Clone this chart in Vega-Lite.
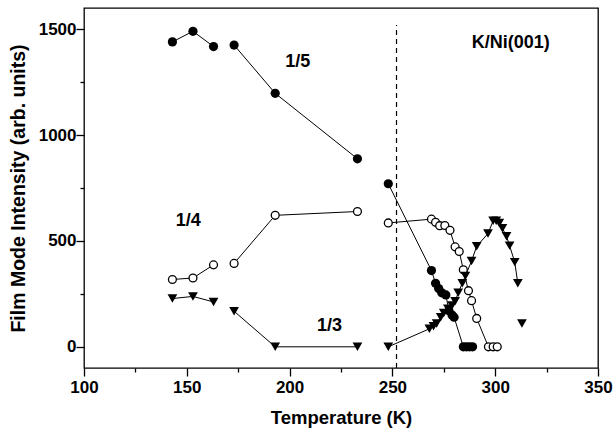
{
  "$schema": "https://vega.github.io/schema/vega-lite/v6.json",
  "width": 514,
  "height": 360,
  "autosize": "none",
  "padding": {"left": 84, "top": 8, "right": 15, "bottom": 64},
  "background": "white",
  "config": {
    "view": {"stroke": "black", "strokeWidth": 1.3},
    "axis": {"grid": false, "domain": false, "labelFont": "Liberation Sans", "titleFont": "Liberation Sans", "labelColor": "black", "titleColor": "black", "tickColor": "black", "tickWidth": 1.3}
  },
  "datasets": {
    "pts": [
      {"series": "1/5", "seg": "A", "T": 143, "I": 1440},
      {"series": "1/5", "seg": "A", "T": 153, "I": 1490},
      {"series": "1/5", "seg": "A", "T": 163, "I": 1418},
      {"series": "1/5", "seg": "B", "T": 173, "I": 1425},
      {"series": "1/5", "seg": "B", "T": 193, "I": 1197},
      {"series": "1/5", "seg": "B", "T": 233, "I": 888},
      {"series": "1/5", "seg": "C", "T": 248, "I": 770},
      {"series": "1/5", "seg": "C", "T": 269, "I": 360},
      {"series": "1/5", "seg": "C", "T": 271, "I": 300},
      {"series": "1/5", "seg": "C", "T": 272.5, "I": 275},
      {"series": "1/5", "seg": "C", "T": 274, "I": 255},
      {"series": "1/5", "seg": "C", "T": 276, "I": 245},
      {"series": "1/5", "seg": "C", "T": 277.5, "I": 170},
      {"series": "1/5", "seg": "C", "T": 279, "I": 150},
      {"series": "1/5", "seg": "C", "T": 280, "I": 140},
      {"series": "1/5", "seg": "C", "T": 284.5, "I": 0},
      {"series": "1/5", "seg": "C", "T": 286, "I": 0},
      {"series": "1/5", "seg": "C", "T": 287.5, "I": 0},
      {"series": "1/5", "seg": "C", "T": 289, "I": 0},
      {"series": "1/4", "seg": "A", "T": 143, "I": 318},
      {"series": "1/4", "seg": "A", "T": 153, "I": 325},
      {"series": "1/4", "seg": "A", "T": 163, "I": 387},
      {"series": "1/4", "seg": "B", "T": 173, "I": 394},
      {"series": "1/4", "seg": "B", "T": 193, "I": 621},
      {"series": "1/4", "seg": "B", "T": 233, "I": 639},
      {"series": "1/4", "seg": "C", "T": 248, "I": 585},
      {"series": "1/4", "seg": "C", "T": 269, "I": 603},
      {"series": "1/4", "seg": "C", "T": 271, "I": 588},
      {"series": "1/4", "seg": "C", "T": 273, "I": 572},
      {"series": "1/4", "seg": "C", "T": 275.5, "I": 573},
      {"series": "1/4", "seg": "C", "T": 278, "I": 550},
      {"series": "1/4", "seg": "C", "T": 280.5, "I": 472},
      {"series": "1/4", "seg": "C", "T": 282.5, "I": 450},
      {"series": "1/4", "seg": "C", "T": 284.5, "I": 364},
      {"series": "1/4", "seg": "C", "T": 287, "I": 265},
      {"series": "1/4", "seg": "C", "T": 288.5, "I": 218},
      {"series": "1/4", "seg": "C", "T": 291, "I": 134},
      {"series": "1/4", "seg": "C", "T": 296.7, "I": 0},
      {"series": "1/4", "seg": "C", "T": 299, "I": 0},
      {"series": "1/4", "seg": "C", "T": 301, "I": 0},
      {"series": "1/3", "seg": "A", "T": 143, "I": 228},
      {"series": "1/3", "seg": "A", "T": 153, "I": 238},
      {"series": "1/3", "seg": "A", "T": 163, "I": 212},
      {"series": "1/3", "seg": "B", "T": 173, "I": 168},
      {"series": "1/3", "seg": "B", "T": 193, "I": 0},
      {"series": "1/3", "seg": "B", "T": 233, "I": 0},
      {"series": "1/3", "seg": "C", "T": 248, "I": 0},
      {"series": "1/3", "seg": "C", "T": 268, "I": 85},
      {"series": "1/3", "seg": "C", "T": 270, "I": 97},
      {"series": "1/3", "seg": "C", "T": 271.5, "I": 110},
      {"series": "1/3", "seg": "C", "T": 273.5, "I": 140},
      {"series": "1/3", "seg": "C", "T": 275, "I": 160},
      {"series": "1/3", "seg": "C", "T": 277, "I": 180},
      {"series": "1/3", "seg": "C", "T": 279, "I": 195},
      {"series": "1/3", "seg": "C", "T": 280.5, "I": 215},
      {"series": "1/3", "seg": "C", "T": 282, "I": 255},
      {"series": "1/3", "seg": "C", "T": 284, "I": 300},
      {"series": "1/3", "seg": "C", "T": 285.5, "I": 335},
      {"series": "1/3", "seg": "C", "T": 288.5, "I": 405},
      {"series": "1/3", "seg": "C", "T": 291, "I": 475},
      {"series": "1/3", "seg": "C", "T": 296.5, "I": 535},
      {"series": "1/3", "seg": "C", "T": 299, "I": 595},
      {"series": "1/3", "seg": "C", "T": 300.5, "I": 595},
      {"series": "1/3", "seg": "C", "T": 302, "I": 585},
      {"series": "1/3", "seg": "C", "T": 303.5, "I": 560},
      {"series": "1/3", "seg": "C", "T": 305.5, "I": 522},
      {"series": "1/3", "seg": "C", "T": 307, "I": 478},
      {"series": "1/3", "seg": "C", "T": 309.5, "I": 400},
      {"series": "1/3", "seg": "C", "T": 311, "I": 300},
      {"series": "1/3", "seg": "D", "T": 313, "I": 110}
    ],
    "rule": [{"T": 252, "I": -100, "I2": 1520}],
    "labels": [
      {"label": "1/5", "T": 204, "I": 1345},
      {"label": "1/4", "T": 150.7, "I": 592},
      {"label": "1/3", "T": 219.4, "I": 99},
      {"label": "K/Ni(001)", "T": 307.6, "I": 1434}
    ]
  },
  "layer": [
    {
      "data": {"name": "rule"},
      "mark": {"type": "rule", "color": "black", "strokeWidth": 1.2, "strokeDash": [5, 4]},
      "encoding": {
        "x": {"field": "T", "type": "quantitative", "scale": {"domain": [100, 350], "nice": false, "zero": false},
              "axis": {"orient": "bottom", "values": [100, 125, 150, 175, 200, 225, 250, 275, 300, 325, 350], "format": "d", "labelExpr": "datum.value % 50 == 0 ? datum.label : ''", "tickSize": {"condition": {"test": "datum.value % 50 == 0", "value": 8}, "value": 4}, "labelPadding": 3, "labelFontSize": 17, "labelFontWeight": "bold", "title": "Temperature (K)", "titleFontSize": 18.5, "titleFontWeight": "bold", "titlePadding": 13, "labelFlush": false}},
        "y": {"field": "I", "type": "quantitative", "scale": {"domain": [-100, 1600], "nice": false, "zero": false},
              "axis": {"orient": "left", "values": [0, 250, 500, 750, 1000, 1250, 1500], "format": "d", "labelExpr": "datum.value % 500 == 0 ? datum.label : ''", "tickSize": {"condition": {"test": "datum.value % 500 == 0", "value": 8}, "value": 4}, "labelPadding": 0, "labelFontSize": 17, "labelFontWeight": "bold", "title": "Film Mode Intensity (arb. units)", "titleFontSize": 19.5, "titleFontWeight": "bold", "titlePadding": 10}},
        "y2": {"field": "I2"}
      }
    },
    {
      "data": {"name": "pts"},
      "transform": [{"filter": "datum.seg != 'D'"}],
      "mark": {"type": "line", "color": "black", "strokeWidth": 1},
      "encoding": {
        "x": {"field": "T", "type": "quantitative"},
        "y": {"field": "I", "type": "quantitative"},
        "detail": [{"field": "series"}, {"field": "seg"}],
        "order": {"field": "T", "type": "quantitative"}
      }
    },
    {
      "data": {"name": "pts"},
      "transform": [{"filter": "datum.series == '1/5'"}],
      "mark": {"type": "point", "shape": "circle", "filled": true, "color": "black", "size": 85, "opacity": 1},
      "encoding": {
        "x": {"field": "T", "type": "quantitative"},
        "y": {"field": "I", "type": "quantitative"}
      }
    },
    {
      "data": {"name": "pts"},
      "transform": [{"filter": "datum.series == '1/4'"}],
      "mark": {"type": "point", "shape": "circle", "filled": true, "fill": "white", "stroke": "black", "strokeWidth": 1.3, "size": 62, "opacity": 1},
      "encoding": {
        "x": {"field": "T", "type": "quantitative"},
        "y": {"field": "I", "type": "quantitative"}
      }
    },
    {
      "data": {"name": "pts"},
      "transform": [{"filter": "datum.series == '1/3'"}],
      "mark": {"type": "point", "shape": "triangle-down", "filled": true, "color": "black", "size": 95, "opacity": 1},
      "encoding": {
        "x": {"field": "T", "type": "quantitative"},
        "y": {"field": "I", "type": "quantitative"}
      }
    },
    {
      "data": {"name": "labels"},
      "mark": {"type": "text", "font": "Liberation Sans", "fontWeight": "bold", "fontSize": 18, "color": "black", "align": "center", "baseline": "middle"},
      "encoding": {
        "x": {"field": "T", "type": "quantitative"},
        "y": {"field": "I", "type": "quantitative"},
        "text": {"field": "label"}
      }
    }
  ]
}
